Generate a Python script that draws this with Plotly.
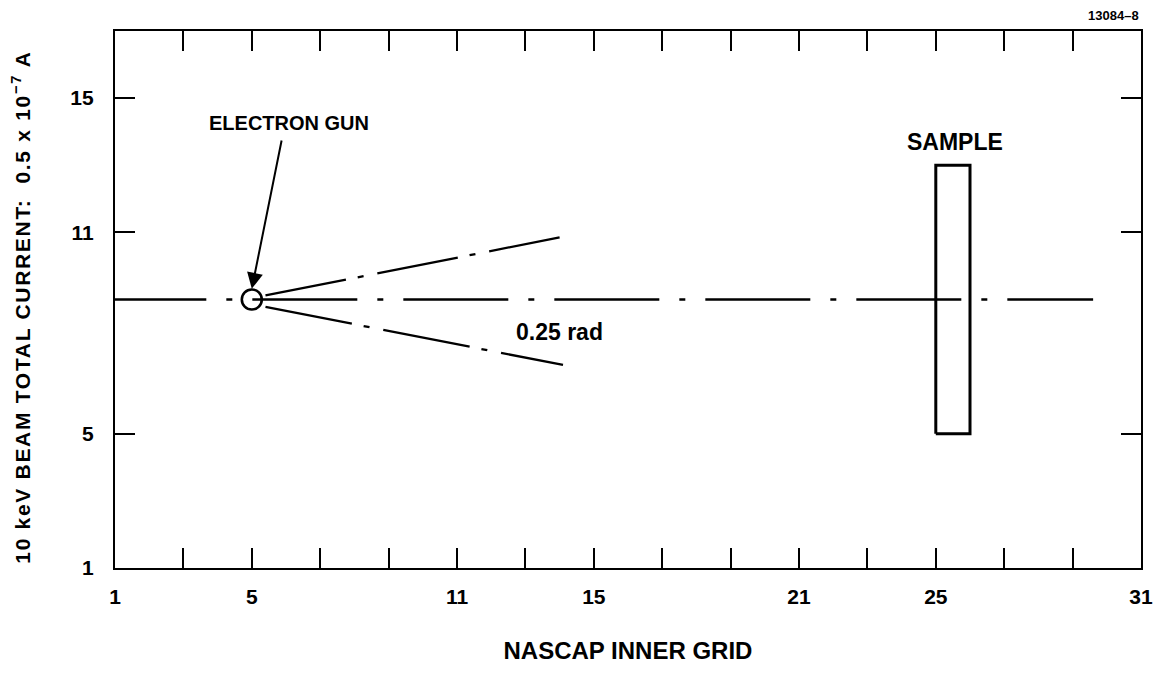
import plotly.graph_objects as go

# ---- data ----
x_tick_vals = list(range(1, 32, 2))
x_tick_labels = ["1", "", "5", "", "", "11", "", "15", "", "", "21", "", "25", "", "", "31"]
y_tick_vals = [1, 5, 11, 15]
y_tick_labels = ["1", "5", "11", "15"]

axis_x = [0.6, 29.6]
axis_y = [9.0, 9.0]
upper_x = [5.4, 14.0]
upper_y = [9.12, 10.85]
lower_x = [5.4, 14.1]
lower_y = [8.78, 7.05]
gun_x = [5.0]
gun_y = [9.0]
sample_x = [25.0, 26.0, 26.0, 25.0, 25.0]
sample_y = [5.0, 5.0, 13.0, 13.0, 5.0]

FONT = "Liberation Sans, Arial, Helvetica, sans-serif"
W = "bold"

fig = go.Figure()
fig.add_trace(go.Scatter(x=axis_x, y=axis_y, mode="lines",
                         line=dict(color="black", width=2.3, dash="105px,20px,6px,20px"),
                         hoverinfo="skip"))
fig.add_trace(go.Scatter(x=upper_x, y=upper_y, mode="lines",
                         line=dict(color="black", width=2.3, dash="82px,12px,6px,14px"),
                         hoverinfo="skip"))
fig.add_trace(go.Scatter(x=lower_x, y=lower_y, mode="lines",
                         line=dict(color="black", width=2.3, dash="88px,12px,6px,14px"),
                         hoverinfo="skip"))
fig.add_trace(go.Scatter(x=sample_x, y=sample_y, mode="lines",
                         line=dict(color="black", width=3),
                         hoverinfo="skip"))
fig.add_trace(go.Scatter(x=gun_x, y=gun_y, mode="markers",
                         marker=dict(symbol="circle-open", size=20, color="black",
                                     line=dict(width=2.6, color="black")),
                         hoverinfo="skip"))

fig.update_layout(
    width=1163, height=673,
    margin=dict(l=107, r=30, t=23, b=113),
    paper_bgcolor="white", plot_bgcolor="white",
    showlegend=False,
    font=dict(family=FONT, color="black", size=20, weight=W),
    xaxis=dict(
        range=[1, 31], tickmode="array", tickvals=x_tick_vals, ticktext=x_tick_labels,
        ticks="inside", ticklen=20, tickwidth=1.5, tickcolor="black",
        showline=True, linewidth=2.3, linecolor="black", mirror="ticks",
        showgrid=False, zeroline=False, ticklabelstandoff=9,
        tickfont=dict(size=21, family=FONT, color="black", weight=W),
        title=dict(text="NASCAP INNER GRID", standoff=35,
                   font=dict(size=24, family=FONT, color="black", weight=W)),
    ),
    yaxis=dict(
        range=[1, 17], tickmode="array", tickvals=y_tick_vals, ticktext=y_tick_labels,
        ticks="inside", ticklen=20, tickwidth=1.5, tickcolor="black",
        showline=True, linewidth=2.3, linecolor="black", mirror="ticks",
        showgrid=False, zeroline=False, ticklabelstandoff=15,
        tickfont=dict(size=21, family=FONT, color="black", weight=W),
        title=dict(text="<span style='letter-spacing:1.7px'>10 keV BEAM TOTAL CURRENT:  0.5 x 10<sup>−7</sup> A&nbsp;&nbsp;</span>",
                   standoff=34, font=dict(size=21, family=FONT, color="black", weight=W)),
    ),
    annotations=[
        dict(x=5.0, y=9.32, ax=5.88, ay=13.78, xref="x", yref="y", axref="x", ayref="y",
             text="", showarrow=True, arrowhead=2, arrowsize=1.6, arrowwidth=2,
             arrowcolor="black", standoff=0, startstandoff=0),
        dict(x=6.1, y=14.26, xref="x", yref="y", text="ELECTRON GUN", showarrow=False,
             font=dict(size=20, family=FONT, color="black", weight=W)),
        dict(x=25.55, y=13.69, xref="x", yref="y", text="SAMPLE", showarrow=False,
             font=dict(size=23, family=FONT, color="black", weight=W)),
        dict(x=14.0, y=8.03, xref="x", yref="y", text="0.25 rad", showarrow=False,
             font=dict(size=23, family=FONT, color="black", weight=W)),
        dict(x=1.0, y=1.0, xref="paper", yref="paper", xanchor="right", yanchor="bottom",
             xshift=0, yshift=6, text="13084–8", showarrow=False,
             font=dict(size=13, family=FONT, color="black", weight="bold")),
    ],
)

fig.write_html("out.html")
